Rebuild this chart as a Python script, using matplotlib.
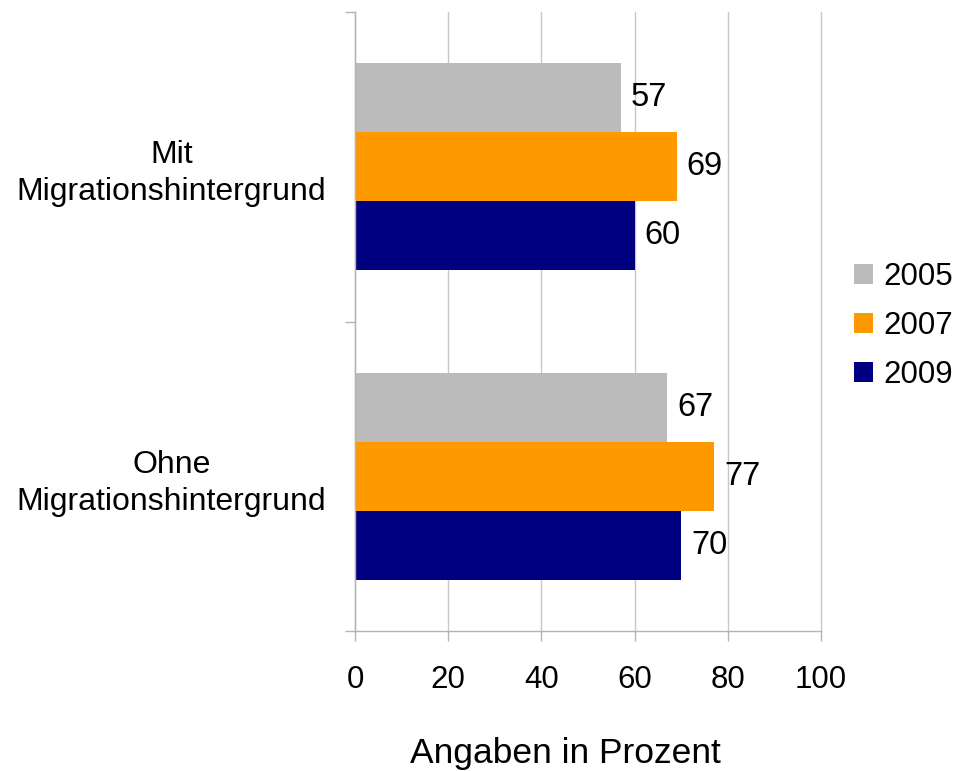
import matplotlib
matplotlib.use('Agg')
import matplotlib.pyplot as plt
import numpy as np
from matplotlib.patches import Patch

plt.rcParams['font.family'] = ['Liberation Sans', 'DejaVu Sans']

# data
categories = ['Mit\nMigrationshintergrund', 'Ohne\nMigrationshintergrund']
years = ['2005', '2007', '2009']
values = {
    '2005': [57, 67],
    '2007': [69, 77],
    '2009': [60, 70],
}
colors = ['#bbbbbb', '#ff9900', '#000080']
x_ticks = [0, 20, 40, 60, 80, 100]

fig = plt.figure(figsize=(9.61, 7.71), dpi=100)
ax = fig.add_axes([355 / 961, 1 - 631 / 771, (821 - 355) / 961, (631 - 12) / 771])

pos = np.arange(len(categories))
h = 0.2226
for i, yr in enumerate(years):
    y = pos + (i - 1) * h
    bars = ax.barh(y, values[yr], height=h, color=colors[i], label=yr, zorder=2)
    for b, v in zip(bars, values[yr]):
        ax.text(b.get_width() + 2.2, b.get_y() + b.get_height() / 2, str(v),
                va='center', ha='left', fontsize=23.5, color='black')

ax.set_xlim(0, 100)
ax.set_ylim(1.5, -0.5)
ax.set_xticks(x_ticks)
ax.set_xticklabels([str(t) for t in x_ticks])
ax.xaxis.grid(True, color='#c8c8c8', linewidth=1, zorder=0)
for gl in ax.get_xgridlines():
    gl.set_clip_on(False)
ax.set_axisbelow(True)

# category boundaries as major ticks, labels on minor ticks
ax.set_yticks([-0.5, 0.5, 1.5])
ax.set_yticklabels([])
ax.set_yticks(pos, minor=True)
ax.set_yticklabels(categories, minor=True, fontsize=23, ha='center', linespacing=1.3)
ax.tick_params(axis='y', which='minor', length=0, pad=132)
ax.tick_params(axis='y', which='major', length=7.5, color='#b4b4b4', width=1)
ax.tick_params(axis='x', length=7.5, color='#b4b4b4', width=1, labelsize=22.5, pad=17)

for s in ['top', 'right']:
    ax.spines[s].set_visible(False)
for s in ['left', 'bottom']:
    ax.spines[s].set_color('#b4b4b4')
    ax.spines[s].set_linewidth(1)

fig.text(565.5 / 961, 1 - 763 / 771, 'Angaben in Prozent', ha='center', va='baseline', fontsize=25.5)

handles = [Patch(facecolor=c, edgecolor='none') for c in colors]
fig.legend(handles, years, loc='center left', bbox_to_anchor=(854 / 961, 1 - 326 / 771),
           frameon=False, fontsize=22.5, handlelength=0.62, handleheight=0.62,
           handletextpad=0.33, labelspacing=0.6, borderpad=0, borderaxespad=0)

fig.savefig('out.png', dpi=100)
